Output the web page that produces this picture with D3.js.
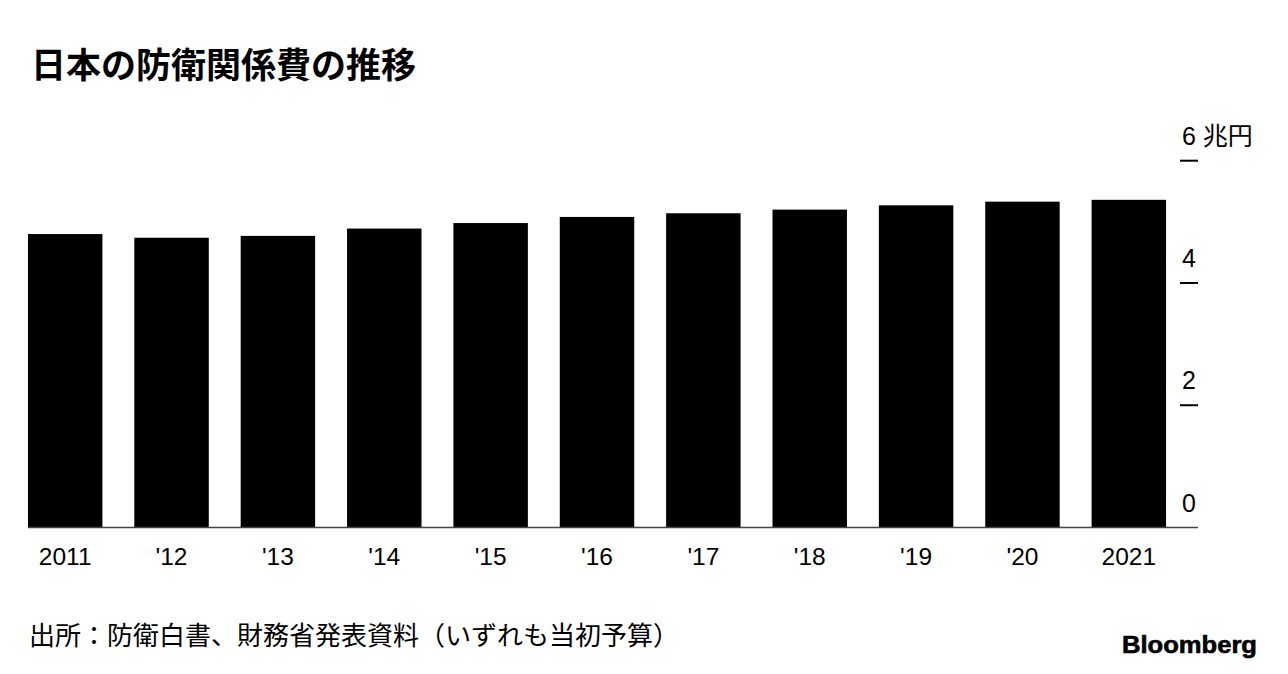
<!DOCTYPE html>
<html><head><meta charset="utf-8">
<script src="https://cdn.jsdelivr.net/npm/d3@7"></script>
<style>
body{margin:0;background:#fff;}
svg{display:block;}
</style></head>
<body>
<svg id="c" width="1288" height="674"></svg>
<script>
const years = ["2011","2012","2013","2014","2015","2016","2017","2018","2019","2020","2021"];
const yearLabels = ["2011","'12","'13","'14","'15","'16","'17","'18","'19","'20","2021"];
const values = [4.80, 4.74, 4.77, 4.89, 4.98, 5.08, 5.14, 5.20, 5.27, 5.33, 5.36];
const yTicks = [0, 2, 4, 6];
const yUnit = "兆円";
const title = "日本の防衛関係費の推移";
const source = "出所：防衛白書、財務省発表資料（いずれも当初予算）";

const svg = d3.select("#c");
const LAT = "'Liberation Sans', Arial, Helvetica, sans-serif";
const CJK = "'Liberation Sans', 'Noto Sans CJK JP', sans-serif";

const x = d3.scaleBand().domain(years).range([12, 1182]).paddingInner(0.3).paddingOuter(0.15);
const y = d3.scaleLinear().domain([0, 6]).range([527.5, 160.7]);

svg.append("text").attr("x", 31).attr("y", 78)
  .attr("font-family", "'Noto Sans CJK JP', sans-serif").attr("font-weight", 700)
  .attr("font-size", 35).attr("fill", "#000").text(title);

svg.append("g").selectAll("rect").data(values).join("rect")
  .attr("x", (d, i) => x(years[i])).attr("width", x.bandwidth())
  .attr("y", d => y(d)).attr("height", d => y(0) - y(d)).attr("fill", "#000");

// baseline
svg.append("line").attr("x1", 28).attr("x2", 1198).attr("y1", y(0)).attr("y2", y(0))
  .attr("stroke", "#444").attr("stroke-width", 1.5);

// y axis ticks
const yAxis = svg.append("g");
yTicks.filter(t => t > 0).forEach(t => {
  yAxis.append("line").attr("x1", 1180).attr("x2", 1198).attr("y1", y(t)).attr("y2", y(t))
    .attr("stroke", "#000").attr("stroke-width", 2);
});
yTicks.forEach(t => {
  yAxis.append("text").attr("x", 1182).attr("y", y(t) - 16)
    .attr("font-family", CJK).attr("font-size", 25).attr("fill", "#000")
    .text(t === 6 ? t + " " + yUnit : t);
});

// x labels
svg.append("g").selectAll("text").data(yearLabels).join("text")
  .attr("x", (d, i) => x(years[i]) + x.bandwidth() / 2).attr("y", 565)
  .attr("text-anchor", "middle").attr("font-family", LAT).attr("font-size", 24.5)
  .attr("fill", "#000").text(d => d);

svg.append("text").attr("x", 29).attr("y", 645)
  .attr("font-family", "'Noto Sans CJK JP', sans-serif").attr("font-size", 26)
  .attr("fill", "#000").text(source);

svg.append("text").attr("x", 1122).attr("y", 653)
  .attr("font-family", LAT).attr("font-weight", 700).attr("font-size", 24)
  .attr("textLength", 135).attr("lengthAdjust", "spacingAndGlyphs")
  .attr("stroke", "#000").attr("stroke-width", 0.6)
  .attr("fill", "#000").text("Bloomberg");
</script>
</body></html>
